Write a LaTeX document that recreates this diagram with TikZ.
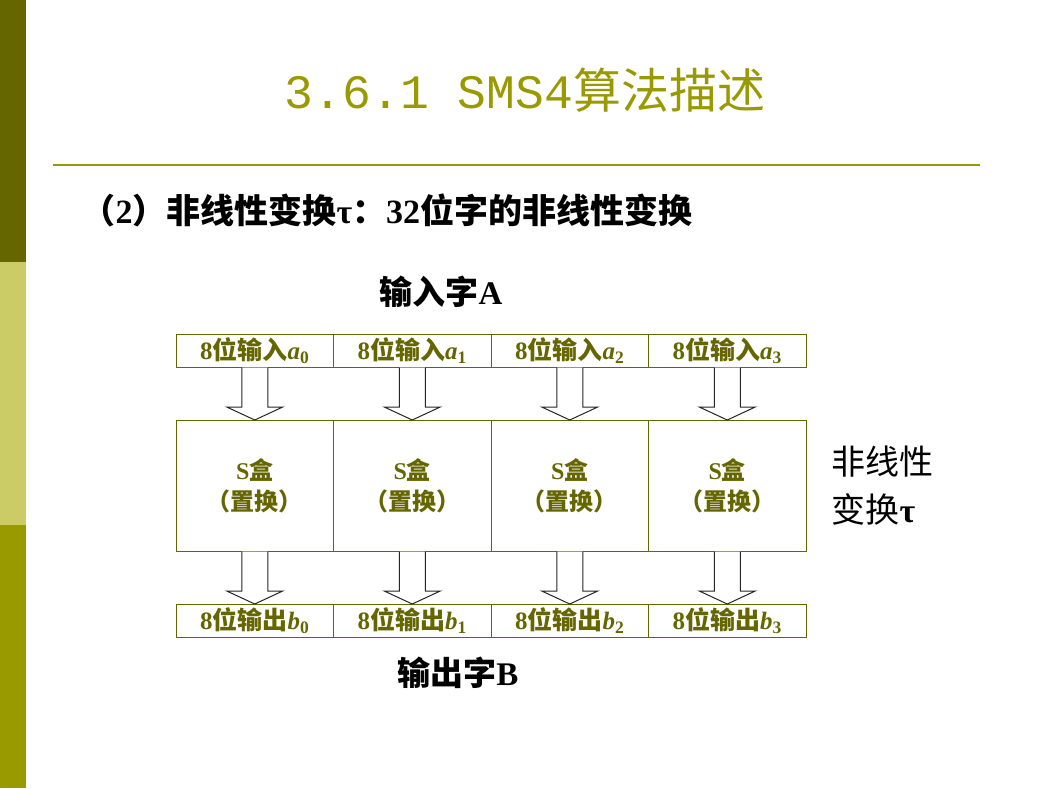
\documentclass[tikz,border=0pt]{standalone}
\usepackage{fontspec}
\setmainfont{Liberation Serif}
\newfontfamily\cjk{Noto Sans CJK SC}
\newfontfamily\titlemono{Liberation Mono}
\usetikzlibrary{calc,positioning}
\definecolor{olivedark}{HTML}{666600}
\definecolor{olivemid}{HTML}{999900}
\definecolor{olivelight}{HTML}{CCCC66}
\newcommand{\zhtext}[1]{{\cjk #1}}
\tikzset{%
	cell/.style     = {draw=olivedark, rectangle, line width=1pt, minimum width=157.5pt, outer sep=0pt, inner sep=0pt, text=olivedark, font=\fontsize{25}{29}\selectfont\bfseries},
	inrow/.style    = {cell, minimum height=33pt}, % 8-bit words
	sboxrow/.style  = {cell, minimum height=131pt, align=center, font=\fontsize{24}{31}\selectfont\bfseries}, % S boxes
	wordtext/.style = {font=\fontsize{33}{36}\selectfont\bfseries},
	blockarrow/.style = {draw=black!85, fill=white, line width=1pt, line join=miter,
		to path={($(\tikztostart)+(-13,0.6)$) -- ($(\tikztotarget)+(-13,-13)$) -- ($(\tikztotarget)+(-28,-13)$) -- (\tikztotarget) -- ($(\tikztotarget)+(28,-13)$) -- ($(\tikztotarget)+(13,-13)$) -- ($(\tikztostart)+(13,0.6)$)}},
}

\begin{document}
\begin{tikzpicture}[x=1pt,y=-1pt]
	\useasboundingbox (0,0) rectangle (1050,788);
	% side bar and rule
	\fill[olivedark] (0,0) rectangle (26,262);
	\fill[olivelight] (0,262) rectangle (26,525);
	\fill[olivemid] (0,525) rectangle (26,788);
	\draw[olivemid, line width=2pt] (53,165) -- (980,165);
	
	\node [text=olivemid, font=\fontsize{48}{56}\selectfont] (title) at (525,90) {{\titlemono 3.6.1 SMS4}\zhtext{算法描述}};
	\node [anchor=west, font=\fontsize{34}{38}\selectfont\bfseries] (subtitle) at (78,210) {\zhtext{（}2\zhtext{）非线性变换}τ\zhtext{：}32\zhtext{位字的非线性变换}};
	
	\node [inrow] (in0) at (254.75,350.5) {8\zhtext{位输入}\textit{a}\textsubscript{0}};
	\node [inrow] (in1) [right=0pt of in0] {8\zhtext{位输入}\textit{a}\textsubscript{1}};
	\node [inrow] (in2) [right=0pt of in1] {8\zhtext{位输入}\textit{a}\textsubscript{2}};
	\node [inrow] (in3) [right=0pt of in2] {8\zhtext{位输入}\textit{a}\textsubscript{3}};
	\node [sboxrow] (sbox0) [below=53pt of in0] {S\zhtext{盒}\\\zhtext{（置换）}};
	\node [sboxrow] (sbox1) [right=0pt of sbox0] {S\zhtext{盒}\\\zhtext{（置换）}};
	\node [sboxrow] (sbox2) [right=0pt of sbox1] {S\zhtext{盒}\\\zhtext{（置换）}};
	\node [sboxrow] (sbox3) [right=0pt of sbox2] {S\zhtext{盒}\\\zhtext{（置换）}};
	\node [inrow] (out0) [below=53pt of sbox0] {8\zhtext{位输出}\textit{b}\textsubscript{0}};
	\node [inrow] (out1) [right=0pt of out0] {8\zhtext{位输出}\textit{b}\textsubscript{1}};
	\node [inrow] (out2) [right=0pt of out1] {8\zhtext{位输出}\textit{b}\textsubscript{2}};
	\node [inrow] (out3) [right=0pt of out2] {8\zhtext{位输出}\textit{b}\textsubscript{3}};
	
	\node [wordtext] (worda) at (441,292) {\zhtext{输入字}A};
	\node [wordtext] (wordb) at (458,673) {\zhtext{输出字}B};
	\node [anchor=west, align=left, font=\fontsize{34}{48}\selectfont] (tau) [right=22pt of sbox3] {\zhtext{非线性}\\\zhtext{变换}\textbf{τ}};
	
	\draw[blockarrow] (in0.south) to (sbox0.north);
	\draw[blockarrow] (in1.south) to (sbox1.north);
	\draw[blockarrow] (in2.south) to (sbox2.north);
	\draw[blockarrow] (in3.south) to (sbox3.north);
	\draw[blockarrow] (sbox0.south) to (out0.north);
	\draw[blockarrow] (sbox1.south) to (out1.north);
	\draw[blockarrow] (sbox2.south) to (out2.north);
	\draw[blockarrow] (sbox3.south) to (out3.north);
	
\end{tikzpicture}
\end{document}
